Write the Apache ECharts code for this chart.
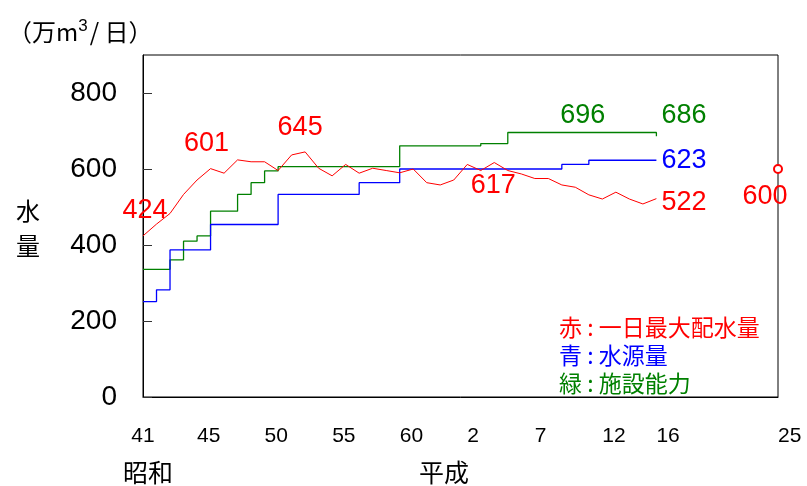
<!DOCTYPE html>
<html>
<head>
<meta charset="utf-8">
<script src="https://cdn.jsdelivr.net/npm/echarts@6/dist/echarts.min.js"></script>
<style>
  html, body { margin: 0; padding: 0; background: #fff; }
  #main { width: 807px; height: 486px; }
</style>
</head>
<body>
<div id="main"></div>
<script>
// 年（昭和41年〜平成16年）
const years = [];
for (let y = 1966; y <= 2004; y++) years.push(y);

// 赤：一日最大配水量
const maxDelivery = [
  424, 455, 483, 533, 571, 601, 589, 624, 619, 619,
  596, 637, 645, 602, 582, 612, 589, 602, 596, 590,
  600, 564, 558, 571, 612, 596, 617, 596, 587, 575,
  575, 558, 552, 532, 521, 539, 521, 508, 522
];
// 青：水源量
const waterSource = [
  251, 282, 387, 387, 387, 454, 454, 454, 454, 454,
  533, 533, 533, 533, 533, 533, 564, 564, 564, 600,
  600, 600, 600, 600, 600, 600, 600, 600, 600, 600,
  600, 612, 612, 623, 623, 623, 623, 623, 623
];
// 緑：施設能力
const capacity = [
  336, 336, 361, 410, 424, 489, 489, 533, 564, 595,
  606, 606, 606, 606, 606, 606, 606, 606, 606, 661,
  661, 661, 661, 661, 661, 667, 667, 696, 696, 696,
  696, 696, 696, 696, 696, 696, 696, 696, 686
];
// 平成25年 目標
const planYear = [2013];
const planValue = [600];

// 軸目盛
const tickYears = [1966, 1970, 1975, 1980, 1985, 1990, 1995, 2000, 2004, 2013];

const FONT = "'Liberation Sans', Arial, 'Noto Sans CJK JP', sans-serif";
const CJK = "'Noto Sans CJK JP', sans-serif";
const RED = "#ff0000", BLUE = "#0000ff", GREEN = "#008000";

// ラベルを付ける点
const redLabels = {
  1966: { position: "top", offset: [2, -7] },
  1971: { position: "top", offset: [-4, -7] },
  1978: { position: "top", offset: [-5, -6] },
  1992: { position: "bottom", offset: [-1, 5] },
  2004: { position: "right", offset: [0, 4] },
};
const blueLabels = { 2004: { position: "right", offset: [0, 0] } };
const greenLabels = {
  1999: { position: "top", offset: [-6, 2] },
  2004: { position: "right", offset: [0, -21] },
};

function build(values, labels, color) {
  return values.map((v, i) => {
    const yr = years[i];
    const lb = labels[yr];
    if (!lb) return [yr, v];
    return {
      value: [yr, v],
      symbol: "circle",
      symbolSize: 0,
      label: {
        show: true,
        position: lb.position,
        offset: lb.offset,
        color: color,
        fontSize: 27,
        fontFamily: FONT,
        formatter: String(v),
      },
    };
  });
}

const myChart = echarts.init(document.getElementById("main"), null, { renderer: "canvas" });

const prefix = { "一日最大配水量": "赤", "水源量": "青", "施設能力": "緑" };

const option = {
  animation: false,
  backgroundColor: "#fff",
  textStyle: { fontFamily: FONT },
  grid: {
    left: 143, right: 29, top: 55, bottom: 89,
    show: true, borderColor: "#000", borderWidth: 1,
  },
  legend: {
    orient: "vertical",
    left: 549,
    top: 311,
    icon: "none",
    itemWidth: 0,
    itemHeight: 0,
    itemGap: 5,
    selectedMode: false,
    formatter: (name) => prefix[name] + " : " + name,
    textStyle: { fontSize: 23, fontFamily: CJK },
    data: [
      { name: "一日最大配水量", textStyle: { color: RED } },
      { name: "水源量", textStyle: { color: BLUE } },
      { name: "施設能力", textStyle: { color: GREEN } },
    ],
  },
  xAxis: {
    type: "value",
    min: 1966,
    max: 2013,
    splitLine: { show: false },
    axisTick: { show: false },
    axisLine: { lineStyle: { color: "#000" } },
    axisLabel: {
      customValues: tickYears,
      margin: 29,
      fontSize: 21,
      color: "#000",
      align: "left",
      alignMinLabel: "center",
      formatter: (v) => String(v < 1989 ? v - 1925 : v - 1988),
    },
  },
  yAxis: {
    type: "value",
    min: 0,
    max: 900,
    interval: 200,
    splitLine: { show: false },
    axisLine: { show: true, lineStyle: { color: "#000" } },
    axisTick: { show: true, inside: true, length: 9, lineStyle: { color: "#333" } },
    axisLabel: {
      showMaxLabel: false,
      margin: 26,
      fontSize: 28,
      color: "#000",
    },
  },
  graphic: [
    {
      type: "text", left: 8, top: 18,
      style: {
        text: "（万m{sup|3}/ 日）",
        font: "24px " + CJK,
        fill: "#000",
        rich: { sup: { fontSize: 17, verticalAlign: "top", padding: [0, 2, 10, 0] } },
      },
    },
    {
      type: "text", x: 28, y: 228,
      style: {
        text: "水\n量", font: "24px " + CJK, fill: "#000",
        lineHeight: 35, textAlign: "center", textVerticalAlign: "middle",
      },
    },
    {
      type: "text", x: 148, y: 472,
      style: { text: "昭和", font: "25px " + CJK, fill: "#000", textAlign: "center", textVerticalAlign: "middle" },
    },
    {
      type: "text", x: 444, y: 472,
      style: { text: "平成", font: "25px " + CJK, fill: "#000", textAlign: "center", textVerticalAlign: "middle" },
    },
  ],
  series: [
    {
      name: "一日最大配水量",
      type: "line",
      symbol: "none",
      lineStyle: { color: RED, width: 1 },
      itemStyle: { color: RED },
      data: build(maxDelivery, redLabels, RED),
      z: 4,
    },
    {
      name: "水源量",
      type: "line",
      step: "end",
      symbol: "none",
      lineStyle: { color: BLUE, width: 1.3 },
      itemStyle: { color: BLUE },
      data: build(waterSource, blueLabels, BLUE),
      z: 3,
    },
    {
      name: "施設能力",
      type: "line",
      step: "end",
      symbol: "none",
      lineStyle: { color: GREEN, width: 1.3 },
      itemStyle: { color: GREEN },
      data: build(capacity, greenLabels, GREEN),
      z: 2,
    },
    {
      name: "目標",
      type: "scatter",
      symbol: "emptyCircle",
      symbolSize: 8,
      itemStyle: { color: RED, borderColor: RED, borderWidth: 2, opacity: 1 },
      label: {
        show: true, position: "bottom", offset: [-13, 4],
        color: RED, fontSize: 27, fontFamily: FONT,
        formatter: (p) => String(p.value[1]),
      },
      data: planYear.map((y, i) => [y, planValue[i]]),
      z: 5,
    },
  ],
};

myChart.setOption(option);
</script>
</body>
</html>
